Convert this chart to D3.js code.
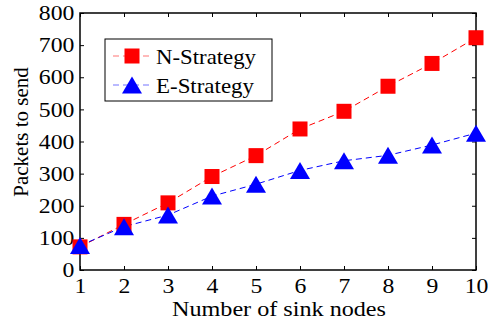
<!DOCTYPE html>
<html>
<head>
<meta charset="utf-8">
<script src="https://cdn.jsdelivr.net/npm/d3@7"></script>
<style>
  body { margin: 0; background: #fff; }
  svg text { font-family: 'Liberation Serif', 'Times New Roman', serif; fill: #000; }
</style>
</head>
<body>
<svg id="chart" width="488" height="320"></svg>
<script>
// data
var sinkNodes = [1, 2, 3, 4, 5, 6, 7, 8, 9, 10];
var nStrategy = [72, 142, 209, 291, 356, 439, 494, 572, 643, 723];
var eStrategy = [76, 135, 171, 230, 267, 310, 340, 357, 389, 426];
var yTicks = [0, 100, 200, 300, 400, 500, 600, 700, 800];

var plotLeft = 80, plotRight = 476, plotTop = 13, plotBottom = 270;
var serif = "'Liberation Serif', 'Times New Roman', serif";
// the source figure is a bit stretched sideways
var stretch = 'scale(1.13,1)';

var svg = d3.select('#chart');

var x = d3.scaleLinear().domain([1, 10]).range([plotLeft, plotRight]);
var y = d3.scaleLinear().domain([0, 800]).range([plotBottom, plotTop]);

// inward ticks on all four sides (matlab box on)
var tickLen = 4;
svg.append('g')
  .attr('transform', 'translate(0,' + plotBottom + ')')
  .call(d3.axisBottom(x).tickValues(sinkNodes).tickSize(-tickLen).tickPadding(8).tickFormat(d3.format('d')))
  .attr('font-family', serif)
  .call(function(g) { g.select('.domain').remove(); })
  .selectAll('text')
    .attr('font-size', 21)
    .attr('transform', stretch);

svg.append('g')
  .attr('transform', 'translate(0,' + plotTop + ')')
  .call(d3.axisTop(x).tickValues(sinkNodes).tickSize(-tickLen).tickFormat(''))
  .call(function(g) { g.select('.domain').remove(); });

svg.append('g')
  .attr('transform', 'translate(' + plotLeft + ',0)')
  .call(d3.axisLeft(y).tickValues(yTicks).tickSize(-tickLen).tickPadding(5))
  .attr('font-family', serif)
  .call(function(g) { g.select('.domain').remove(); })
  .selectAll('text')
    .attr('font-size', 21)
    .attr('transform', stretch);

svg.append('g')
  .attr('transform', 'translate(' + plotRight + ',0)')
  .call(d3.axisRight(y).tickValues(yTicks).tickSize(-tickLen).tickFormat(''))
  .call(function(g) { g.select('.domain').remove(); });

svg.selectAll('.tick line').attr('stroke', '#000').attr('stroke-width', 1);

svg.append('rect')
  .attr('x', plotLeft)
  .attr('y', plotTop)
  .attr('width', plotRight - plotLeft)
  .attr('height', plotBottom - plotTop)
  .attr('fill', 'none')
  .attr('stroke', '#000')
  .attr('stroke-width', 1.5);

// lines
var line = d3.line()
  .x(function(d, i) { return x(sinkNodes[i]); })
  .y(function(d) { return y(d); });

svg.append('path')
  .datum(nStrategy)
  .attr('d', line)
  .attr('fill', 'none')
  .attr('stroke', '#ff0000')
  .attr('stroke-width', 1)
  .attr('stroke-dasharray', '6,4');

svg.append('path')
  .datum(eStrategy)
  .attr('d', line)
  .attr('fill', 'none')
  .attr('stroke', '#0000ff')
  .attr('stroke-width', 1)
  .attr('stroke-dasharray', '6,4');

var sq = 15;
function triangle(cx, cy) {
  var w = 20, h = 17;
  return 'M' + cx + ',' + (cy - h / 2) + 'L' + (cx + w / 2) + ',' + (cy + h / 2) + 'L' + (cx - w / 2) + ',' + (cy + h / 2) + 'Z';
}

svg.append('g').selectAll('rect')
  .data(nStrategy)
  .enter().append('rect')
  .attr('x', function(d, i) { return x(sinkNodes[i]) - sq / 2; })
  .attr('y', function(d) { return y(d) - sq / 2; })
  .attr('width', sq)
  .attr('height', sq)
  .attr('fill', '#ff0000');

svg.append('g').selectAll('path')
  .data(eStrategy)
  .enter().append('path')
  .attr('d', function(d, i) { return triangle(x(sinkNodes[i]), y(d)); })
  .attr('fill', '#0000ff');

// axis labels
svg.append('text')
  .attr('x', 172)
  .attr('y', 316)
  .attr('font-family', serif)
  .attr('font-size', 21)
  .attr('textLength', 214)
  .attr('lengthAdjust', 'spacingAndGlyphs')
  .text('Number of sink nodes');

svg.append('text')
  .attr('transform', 'translate(28,132) rotate(-90)')
  .attr('text-anchor', 'middle')
  .attr('font-family', serif)
  .attr('font-size', 21)
  .text('Packets to send');

// legend
var legend = svg.append('g');
legend.append('rect')
  .attr('x', 105)
  .attr('y', 39)
  .attr('width', 167)
  .attr('height', 62)
  .attr('fill', '#fff')
  .attr('stroke', '#000')
  .attr('stroke-width', 1);

var legendItems = [
  { name: 'N-Strategy', color: '#ff0000', shape: 'square', yy: 56, len: 100 },
  { name: 'E-Strategy', color: '#0000ff', shape: 'triangle', yy: 85, len: 98 }
];

legendItems.forEach(function(item) {
  legend.append('line')
    .attr('x1', 113).attr('x2', 151)
    .attr('y1', item.yy).attr('y2', item.yy)
    .attr('stroke', item.color)
    .attr('stroke-opacity', 0.55)
    .attr('stroke-dasharray', '6,4');
  if (item.shape === 'square') {
    legend.append('rect')
      .attr('x', 132 - sq / 2).attr('y', item.yy - sq / 2)
      .attr('width', sq).attr('height', sq)
      .attr('fill', item.color);
  } else {
    legend.append('path')
      .attr('d', triangle(132, item.yy))
      .attr('fill', item.color);
  }
  legend.append('text')
    .attr('x', 156)
    .attr('y', item.yy)
    .attr('dy', '0.35em')
    .attr('font-family', serif)
    .attr('font-size', 22)
    .attr('textLength', item.len)
    .attr('lengthAdjust', 'spacingAndGlyphs')
    .text(item.name);
});
</script>
</body>
</html>
